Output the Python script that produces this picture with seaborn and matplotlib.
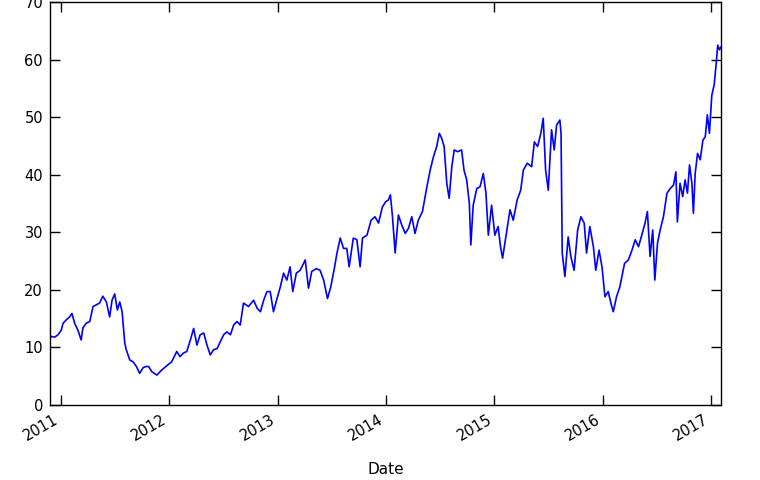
import matplotlib
matplotlib.use("Agg")
import matplotlib.pyplot as plt
import matplotlib.dates as mdates
import pandas as pd
import seaborn as sns

# values (approximate)
dates = [
    "2010-11-26", "2010-12-01", "2010-12-12", "2010-12-23", "2011-01-03", "2011-01-09",
    "2011-01-20", "2011-01-31", "2011-02-08", "2011-02-17", "2011-02-28", "2011-03-11",
    "2011-03-17", "2011-03-28", "2011-04-09", "2011-04-20", "2011-05-01", "2011-05-12",
    "2011-05-23", "2011-06-04", "2011-06-15", "2011-06-23", "2011-07-02", "2011-07-11",
    "2011-07-19", "2011-07-27", "2011-08-05", "2011-08-10", "2011-08-22", "2011-09-02",
    "2011-09-13", "2011-09-24", "2011-10-06", "2011-10-17", "2011-10-24", "2011-11-04",
    "2011-11-21", "2011-12-08", "2011-12-24", "2012-01-10", "2012-01-27", "2012-02-07",
    "2012-02-18", "2012-03-01", "2012-03-13", "2012-03-24", "2012-04-04", "2012-04-15",
    "2012-04-27", "2012-05-08", "2012-05-19", "2012-05-30", "2012-06-11", "2012-06-22",
    "2012-07-03", "2012-07-14", "2012-07-26", "2012-08-06", "2012-08-17", "2012-08-28",
    "2012-09-08", "2012-09-25", "2012-10-12", "2012-10-24", "2012-11-04", "2012-11-15",
    "2012-11-26", "2012-12-07", "2012-12-18", "2012-12-30", "2013-01-10", "2013-01-21",
    "2013-02-01", "2013-02-12", "2013-02-21", "2013-03-05", "2013-03-18", "2013-04-04",
    "2013-04-15", "2013-04-26", "2013-05-11", "2013-05-24", "2013-06-05", "2013-06-18",
    "2013-06-29", "2013-07-11", "2013-07-20", "2013-07-31", "2013-08-11", "2013-08-22",
    "2013-08-30", "2013-09-13", "2013-09-25", "2013-10-06", "2013-10-14", "2013-10-29",
    "2013-11-12", "2013-11-25", "2013-12-07", "2013-12-20", "2013-12-31", "2014-01-09",
    "2014-01-16", "2014-01-23", "2014-02-01", "2014-02-12", "2014-02-23", "2014-03-07",
    "2014-03-18", "2014-03-29", "2014-04-09", "2014-04-20", "2014-05-04", "2014-05-19",
    "2014-05-30", "2014-06-10", "2014-06-21", "2014-06-30", "2014-07-08", "2014-07-16",
    "2014-07-25", "2014-08-02", "2014-08-11", "2014-08-19", "2014-08-30", "2014-09-13",
    "2014-09-21", "2014-09-30", "2014-10-09", "2014-10-14", "2014-10-22", "2014-11-03",
    "2014-11-14", "2014-11-25", "2014-12-04", "2014-12-12", "2014-12-23", "2015-01-03",
    "2015-01-14", "2015-01-22", "2015-01-29", "2015-02-09", "2015-02-23", "2015-03-06",
    "2015-03-19", "2015-03-31", "2015-04-09", "2015-04-22", "2015-05-07", "2015-05-16",
    "2015-05-27", "2015-06-07", "2015-06-15", "2015-06-23", "2015-07-02", "2015-07-13",
    "2015-07-22", "2015-07-30", "2015-08-10", "2015-08-14", "2015-08-18", "2015-08-27",
    "2015-09-07", "2015-09-16", "2015-09-27", "2015-10-09", "2015-10-20", "2015-10-31",
    "2015-11-08", "2015-11-19", "2015-12-01", "2015-12-09", "2015-12-20", "2015-12-30",
    "2016-01-09", "2016-01-20", "2016-01-29", "2016-02-06", "2016-02-17", "2016-02-28",
    "2016-03-15", "2016-03-28", "2016-04-09", "2016-04-20", "2016-05-01", "2016-05-12",
    "2016-05-23", "2016-05-31", "2016-06-09", "2016-06-18", "2016-06-25", "2016-07-04",
    "2016-07-13", "2016-07-24", "2016-08-05", "2016-08-16", "2016-08-27", "2016-09-04",
    "2016-09-09", "2016-09-18", "2016-09-27", "2016-10-05", "2016-10-13", "2016-10-20",
    "2016-10-28", "2016-11-02", "2016-11-08", "2016-11-16", "2016-11-25", "2016-12-04",
    "2016-12-12", "2016-12-19", "2016-12-26", "2017-01-03", "2017-01-11", "2017-01-18",
    "2017-01-23", "2017-01-29", "2017-02-03",
]
price = [
    11.6, 11.9, 11.8, 12.2, 13.0, 14.2,
    14.8, 15.3, 15.9, 14.2, 13.0, 11.3,
    13.4, 14.2, 14.5, 17.1, 17.4, 17.7,
    18.9, 17.9, 15.3, 18.2, 19.3, 16.5,
    17.9, 16.2, 10.7, 9.6, 7.8, 7.5,
    6.7, 5.5, 6.5, 6.7, 6.7, 5.8,
    5.2, 6.1, 6.8, 7.5, 9.3, 8.4,
    9.0, 9.3, 11.3, 13.3, 10.4, 12.2,
    12.5, 10.4, 8.7, 9.6, 9.8, 11.0,
    12.2, 12.7, 12.2, 13.9, 14.5, 13.9,
    17.7, 17.1, 18.2, 16.8, 16.2, 18.2,
    19.7, 19.7, 16.2, 18.5, 20.5, 22.9,
    21.7, 24.0, 19.7, 22.9, 23.4, 25.2,
    20.3, 23.2, 23.7, 23.4, 21.7, 18.5,
    20.5, 23.7, 26.4, 29.0, 27.2, 27.2,
    24.0, 29.0, 28.7, 24.0, 29.0, 29.5,
    32.1, 32.7, 31.6, 34.4, 35.3, 35.6,
    36.5, 32.7, 26.4, 33.0, 31.3, 29.8,
    30.7, 32.7, 29.8, 32.1, 33.6, 37.9,
    40.8, 43.1, 44.9, 47.2, 46.3, 44.9,
    38.5, 35.9, 41.4, 44.3, 44.0, 44.3,
    40.8, 39.1, 35.0, 27.8, 34.7, 37.6,
    37.9, 40.2, 36.8, 29.5, 34.7, 29.5,
    31.0, 27.5, 25.5, 29.2, 33.9, 32.1,
    35.6, 37.3, 40.8, 42.0, 41.4, 45.7,
    44.9, 47.2, 49.8, 40.8, 37.3, 47.8,
    44.3, 48.6, 49.5, 47.2, 26.4, 22.3,
    29.2, 25.8, 23.4, 30.4, 32.7, 31.6,
    26.4, 31.0, 27.5, 23.4, 26.9, 24.0,
    18.8, 19.7, 17.7, 16.2, 18.8, 20.5,
    24.6, 25.2, 26.9, 28.7, 27.5, 29.5,
    31.6, 33.6, 25.8, 30.4, 21.7, 28.1,
    30.4, 32.7, 36.8, 37.6, 38.2, 40.5,
    31.8, 38.5, 36.2, 39.1, 36.8, 41.7,
    38.5, 33.3, 40.2, 43.7, 42.6, 46.0,
    46.6, 50.4, 47.2, 53.8, 55.6, 59.4,
    62.5, 61.7, 62.2,
]
years = [2011, 2012, 2013, 2014, 2015, 2016, 2017]

df = pd.DataFrame({"Date": pd.to_datetime(dates), "Price": price})

sns.set_style("ticks", {"xtick.direction": "in", "ytick.direction": "in",
                        "axes.edgecolor": "black", "text.color": "black",
                        "xtick.color": "black", "ytick.color": "black",
                        "axes.labelcolor": "black"})
plt.rcParams["font.family"] = ["DejaVu Sans"]

fig = plt.figure(figsize=(7.6, 4.8), dpi=100)
ax = fig.add_axes([50 / 760, 75 / 480, 671 / 760, 403 / 480])

sns.lineplot(data=df, x="Date", y="Price", color="#0000ff", linewidth=1.2, ax=ax)

ax.set_xlim(df["Date"].iloc[0], df["Date"].iloc[-1])
ax.set_ylim(0, 70)
ax.set_yticks(range(0, 71, 10))
ax.set_ylabel("")
ax.set_xlabel("Date", fontsize=11, labelpad=13)

ax.set_xticks(pd.to_datetime([f"{y}-01-01" for y in years]))
ax.xaxis.set_major_formatter(mdates.DateFormatter("%Y"))
ax.tick_params(top=True, right=True, direction="in", length=7, width=1,
               labelsize=10.5, pad=5)
for lbl in ax.get_xticklabels():
    lbl.set_rotation(30)
    lbl.set_ha("right")

for s in ax.spines.values():
    s.set_visible(True)
    s.set_linewidth(1.0)
    s.set_color("black")

fig.savefig("out.png", dpi=100)
